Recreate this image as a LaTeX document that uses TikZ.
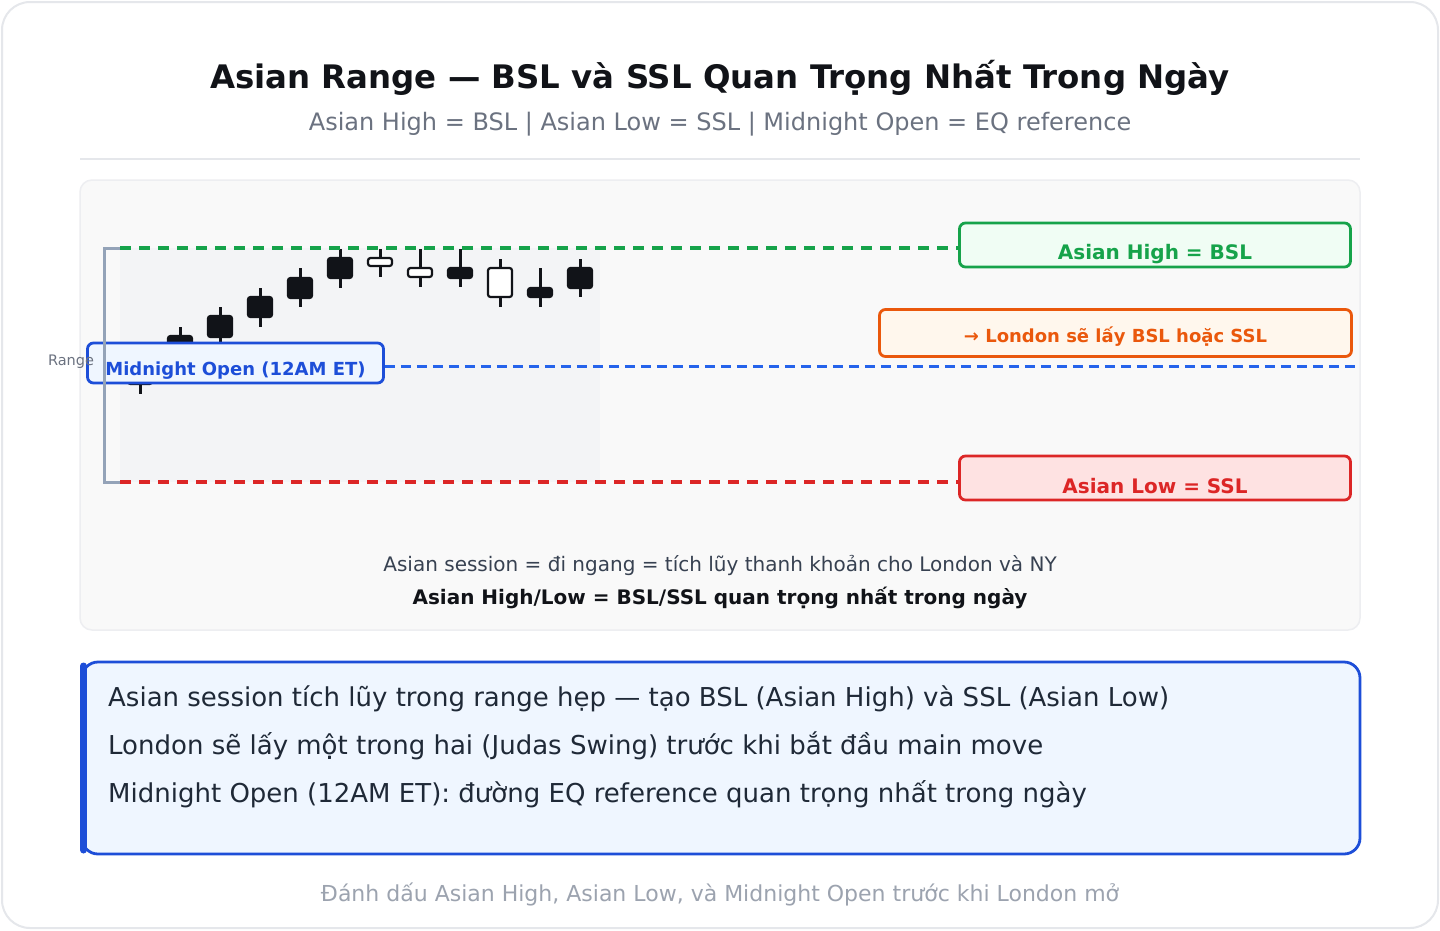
\documentclass[tikz,border=0pt]{standalone}
\usepackage{fontspec}
\setmainfont{DejaVu Sans}
\usetikzlibrary{positioning}
\usepackage{xcolor}
\definecolor{ink}{HTML}{111318}
\definecolor{frame}{HTML}{E5E7EB}
\definecolor{panel}{HTML}{F9F9F9}
\definecolor{chartbg}{HTML}{F3F4F6}
\definecolor{greyt}{HTML}{6B7280}
\definecolor{greyf}{HTML}{9CA3AF}
\definecolor{darkt}{HTML}{374151}
\definecolor{notet}{HTML}{1F2937}
\definecolor{bslc}{HTML}{16A34A}
\definecolor{bslf}{HTML}{F0FDF4}
\definecolor{sslc}{HTML}{DC2626}
\definecolor{sslf}{HTML}{FEE2E2}
\definecolor{eqc}{HTML}{1D4ED8}
\definecolor{eqd}{HTML}{2563EB}
\definecolor{eqf}{HTML}{EFF6FF}
\definecolor{ldnc}{HTML}{EA580C}
\definecolor{ldnf}{HTML}{FFF7ED}
\definecolor{brk}{HTML}{94A3B8}

\begin{document}
\begin{tikzpicture}[x=1pt,y=-1pt,
  fullbody/.style={fill=ink,draw=ink,line width=2.2pt,rounded corners=2.5pt},
  openbody/.style={fill=white,draw=ink,line width=2.2pt,rounded corners=2.5pt},
  wick/.style={draw=ink,line width=3pt},
  tag/.style={rounded corners=6pt,line width=2.8pt,text depth=2pt,font=\bfseries\fontsize{20}{24}\selectfont},
  lvl/.style={line width=3.4pt,dash pattern=on 11pt off 8pt}]
  \useasboundingbox (0,0) rectangle (1440,930);
  \draw[frame,fill=white,line width=2pt,rounded corners=28pt] (2,2) rectangle (1438,928);

  % heading
  \node[anchor=base,text=ink,font=\bfseries\fontsize{32.4}{38}\selectfont] (title) at (720,88) {Asian Range — BSL và SSL Quan Trọng Nhất Trong Ngày};
  \node[anchor=base,text=greyt,font=\fontsize{24}{28}\selectfont] (sub) at (720,130) {Asian High = BSL | Asian Low = SSL | Midnight Open = EQ reference};
  \draw[frame,line width=2pt] (80,159) -- (1360,159);

  % chart panel
  \draw[draw=frame!70,fill=panel,line width=1.5pt,rounded corners=12pt] (80,180) rectangle (1360,630);
  \fill[chartbg] (120,248) rectangle (600,482);

  % candles
  \draw[wick] (140,355) -- (140,394);  \draw[fullbody] (128,364) rectangle (152,384);
  \draw[wick] (180,327) -- (180,366);  \draw[fullbody] (168,336) rectangle (192,356);
  \draw[wick] (220,307) -- (220,346);  \draw[fullbody] (208,316) rectangle (232,337);
  \draw[wick] (260,288) -- (260,327);  \draw[fullbody] (248,297) rectangle (272,317);
  \draw[wick] (300,268) -- (300,307);  \draw[fullbody] (288,278) rectangle (312,298);
  \draw[wick] (340,249) -- (340,288);  \draw[fullbody] (328,258) rectangle (352,278);
  \draw[wick] (380,249) -- (380,277);  \draw[openbody] (368,258) rectangle (392,266);
  \draw[wick] (420,249) -- (420,287);  \draw[openbody] (408,268) rectangle (432,277);
  \draw[wick] (460,249) -- (460,287);  \draw[fullbody] (448,268) rectangle (472,278);
  \draw[wick] (500,259) -- (500,307);  \draw[openbody] (488,268) rectangle (512,297);
  \draw[wick] (540,268) -- (540,307);  \draw[fullbody] (528,288) rectangle (552,297);
  \draw[wick] (580,259) -- (580,297);  \draw[fullbody] (568,268) rectangle (592,288);

  % level tags
  \node[tag,draw=bslc,fill=bslf,text=bslc,minimum width=391pt,minimum height=44pt,text height=30pt] (bsl) at (1155,245) {Asian High = BSL};
  \node[tag,draw=sslc,fill=sslf,text=sslc,minimum width=391pt,minimum height=44pt,text height=32pt] (ssl) at (1155,478) {Asian Low = SSL};
  \node[tag,draw=ldnc,fill=ldnf,text=ldnc,minimum width=472pt,minimum height=47pt,text height=20pt,font=\bfseries\fontsize{18}{22}\selectfont] (ldn) at (1115.5,333) {→ London sẽ lấy BSL hoặc SSL};
  \node[tag,draw=eqc,fill=eqf,text=eqc,minimum width=296pt,minimum height=40pt,text height=26pt,font=\bfseries\fontsize{18}{22}\selectfont] (mo) at (235.5,363) {Midnight Open (12AM ET)};

  % level lines
  \coordinate (hiL) at (120,248);
  \coordinate (loL) at (120,482);
  \coordinate (eqR) at (1355,366);
  \draw[lvl,bslc] (hiL) -- (hiL -| bsl.west);
  \draw[lvl,sslc] (loL) -- (loL -| ssl.west);
  \draw[eqd,line width=3pt,dash pattern=on 10pt off 6pt] (mo.east |- eqR) -- (eqR);

  % range bracket
  \draw[brk,line width=3pt] (hiL) -- (104,248) -- (104,482) -- (loL);
  \node[anchor=base,text=greyt,font=\fontsize{14.5}{17}\selectfont] (rng) at (71,365) {Range};

  % panel captions
  \node[anchor=base,text=darkt,font=\fontsize{20}{24}\selectfont] (cap1) at (720,571) {Asian session = đi ngang = tích lũy thanh khoản cho London và NY};
  \node[anchor=base,text=ink,font=\bfseries\fontsize{20}{24}\selectfont] (cap2) at (720,604) {Asian High/Low = BSL/SSL quan trọng nhất trong ngày};

  % note box
  \draw[eqc,fill=eqf,line width=2.8pt,rounded corners=16pt] (82,662) rectangle (1360,854);
  \draw[eqc,line width=7pt,line cap=round] (83.5,666) -- (83.5,850);
  \node[anchor=base west,inner sep=0pt,text=notet,font=\fontsize{26}{30}\selectfont] (n1) at (108,706) {Asian session tích lũy trong range hẹp — tạo BSL (Asian High) và SSL (Asian Low)};
  \node[anchor=base west,inner sep=0pt,text=notet,font=\fontsize{26}{30}\selectfont] (n2) at (108,754) {London sẽ lấy một trong hai (Judas Swing) trước khi bắt đầu main move};
  \node[anchor=base west,inner sep=0pt,text=notet,font=\fontsize{26}{30}\selectfont] (n3) at (108,802) {Midnight Open (12AM ET): đường EQ reference quan trọng nhất trong ngày};

  % footer
  \node[anchor=base,text=greyf,font=\fontsize{22}{26}\selectfont] (foot) at (720,901) {Đánh dấu Asian High, Asian Low, và Midnight Open trước khi London mở};
\end{tikzpicture}
\end{document}
